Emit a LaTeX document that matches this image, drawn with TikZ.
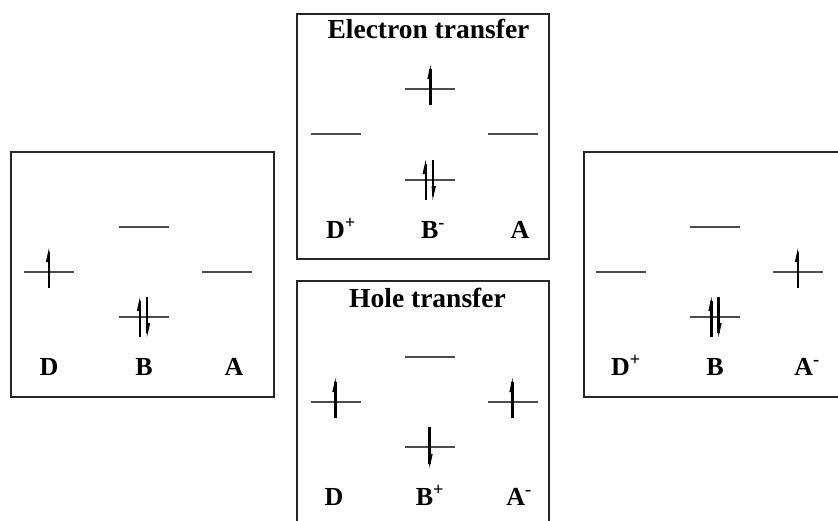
\documentclass[tikz,border=0pt]{standalone}
\usepackage{fontspec}
\setmainfont{Liberation Serif}
\begin{document}
\begin{tikzpicture}[x=1pt,y=-1pt,
  boxline/.style={draw=black!85, line width=1.3pt},
  lvl/.style={draw=black!70, line width=1.3pt},
  spinln/.style={draw=black, line width=2.2pt},
  lbl/.style={font=\fontsize{26}{28}\selectfont\bfseries, inner sep=0pt, anchor=base},
  ttl/.style={font=\fontsize{27.5}{30}\selectfont\bfseries, inner sep=0pt, anchor=base},
  orb/.pic={\draw[lvl] (-25,0) -- (25,0);},
  eup/.pic={\draw[spinln] (0,16) -- (0,-20); \fill[black] (0,-24) -- (-3.2,-10) -- (1.1,-10) -- cycle;},
  edown/.pic={\draw[spinln] (0,-20) -- (0,17); \fill[black] (0,21) -- (3.2,7) -- (-1.1,7) -- cycle;},
  epair/.pic={
    \draw[spinln] (-3.5,20) -- (-3.5,-16); \fill[black] (-3.5,-20) -- (-6.7,-6) -- (-2.4,-6) -- cycle;
    \draw[spinln] (3.5,-20) -- (3.5,16); \fill[black] (3.5,20) -- (6.7,6) -- (2.4,6) -- cycle;}
]
\useasboundingbox (0,0) rectangle (838,520);

% ---------- left box: D B A ----------
\draw[boxline] (11,152) rectangle (274,397);
\pic at (49,272) {orb};
\pic at (144,227) {orb};
\pic at (144,317) {orb};
\pic at (227,272) {orb};
\pic at (49,272) {eup};
\pic at (143.5,317) {epair};
\node[lbl] (l1) at (49,375) {D};
\node[lbl] (l2) at (144,375) {B};
\node[lbl] (l3) at (234,375) {A};

% ---------- top box: electron transfer ----------
\draw[boxline] (297,14) rectangle (549,259);
\node[ttl] (t0) at (428.5,38) {Electron transfer};
\pic at (429.5,89) {orb};
\pic at (335.5,134) {orb};
\pic at (512.5,134) {orb};
\pic at (429.5,180) {orb};
\pic at (430.5,89) {eup};
\pic at (429.2,180) {epair};
\node[lbl] (t1) at (341,238) {D\textsuperscript{+}};
\node[lbl] (t2) at (433,238) {B\textsuperscript{-}};
\node[lbl] (t3) at (520,238) {A};

% ---------- bottom box: hole transfer ----------
\draw[boxline] (297,522) -- (297,281) -- (549,281) -- (549,522);
\node[ttl] (h0) at (427.5,307) {Hole transfer};
\pic at (429.5,357) {orb};
\pic at (335.5,402) {orb};
\pic at (512.5,402) {orb};
\pic at (429.5,447) {orb};
\pic at (335.5,402) {eup};
\pic at (512.5,402) {eup};
\pic at (429.5,447) {edown};
\node[lbl] (h1) at (334,505) {D};
\node[lbl] (h2) at (430,505) {B\textsuperscript{+}};
\node[lbl] (h3) at (519,505) {A\textsuperscript{-}};

% ---------- right box: D+ B A- ----------
\draw[boxline] (840,152) -- (584,152) -- (584,397) -- (840,397);
\pic at (621,272) {orb};
\pic at (715,227) {orb};
\pic at (715,317) {orb};
\pic at (798,272) {orb};
\pic at (798,272) {eup};
\pic at (715,317) {epair};
\node[lbl] (r1) at (626,375) {D\textsuperscript{+}};
\node[lbl] (r2) at (715,375) {B};
\node[lbl] (r3) at (807,375) {A\textsuperscript{-}};
\end{tikzpicture}
\end{document}
